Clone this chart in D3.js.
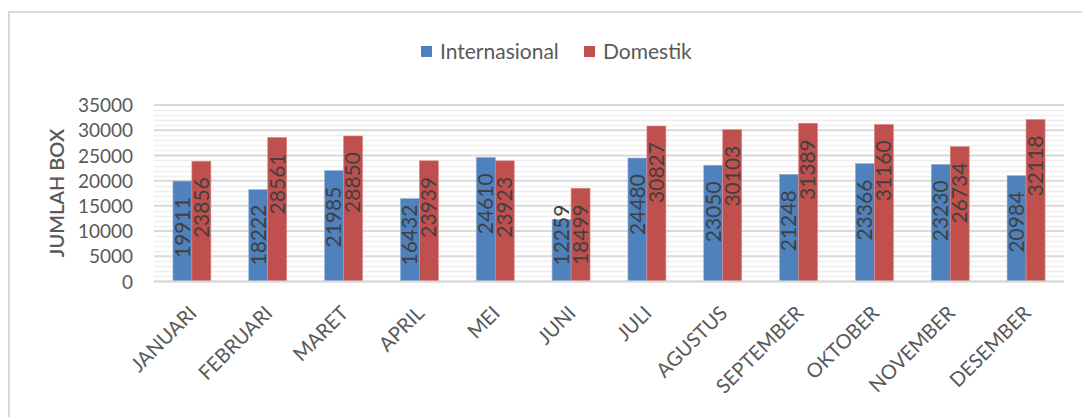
<!DOCTYPE html>
<html>
<head>
<meta charset="utf-8">
<script src="https://cdn.jsdelivr.net/npm/d3@7"></script>
<style>
  html, body { margin: 0; padding: 0; background: #fff; }
  svg { display: block; }
  text { font-family: Lato, "Open Sans", sans-serif; }
</style>
</head>
<body>
<svg id="chart" width="1082" height="417"></svg>
<script>
const months = ["JANUARI","FEBRUARI","MARET","APRIL","MEI","JUNI","JULI","AGUSTUS","SEPTEMBER","OKTOBER","NOVEMBER","DESEMBER"];
const seriesNames = ["Internasional","Domestik"];
const internasional = [19911,18222,21985,16432,24610,12259,24480,23050,21248,23366,23230,20984];
const domestik = [23856,28561,28850,23939,23923,18499,30827,30103,31389,31160,26734,32118];
const yTicks = [0,5000,10000,15000,20000,25000,30000,35000];
const colors = ["#4F81BD","#C0504D"];

const svg = d3.select("#chart");
const pLeft = 154, pRight = 1064, pTop = 105, pBottom = 281.5;

// frame
svg.append("line").attr("x1",9).attr("x2",1082).attr("y1",12).attr("y2",12).attr("stroke","#d9d9d9").attr("stroke-width",2);
svg.append("line").attr("x1",9).attr("x2",9).attr("y1",11).attr("y2",417).attr("stroke","#d9d9d9").attr("stroke-width",2);

const y = d3.scaleLinear().domain([0,35000]).range([pBottom, pTop]);
const x0 = d3.scaleBand().domain(months).range([pLeft, pRight]).paddingInner(0.5).paddingOuter(0.25);
const x1 = d3.scaleBand().domain(seriesNames).range([0, x0.bandwidth()]);

// minor gridlines
const minor = d3.range(1000, 35001, 1000).filter(v => v % 5000 !== 0);
svg.append("g").selectAll("line").data(minor).join("line")
  .attr("x1", pLeft).attr("x2", pRight)
  .attr("y1", d => Math.round(y(d)) + 0.5).attr("y2", d => Math.round(y(d)) + 0.5)
  .attr("stroke", "#efefef").attr("stroke-width", 1.5);
// major gridlines
svg.append("g").selectAll("line").data(yTicks).join("line")
  .attr("x1", pLeft).attr("x2", pRight)
  .attr("y1", d => y(d)).attr("y2", d => y(d))
  .attr("stroke", "#d9d9d9").attr("stroke-width", 2);

// y axis labels
const yAxis = d3.axisLeft(y).tickValues(yTicks).tickSize(0).tickPadding(0).tickFormat(d3.format("d"));
const yg = svg.append("g").attr("transform", `translate(133,0)`).call(yAxis);
yg.select(".domain").remove();
yg.selectAll("text").attr("fill","#595959").style("font-size","19px").style("font-family","Lato").attr("dy","0.35em");

// y title
svg.append("text").attr("transform","translate(64,193) rotate(-90)")
  .attr("text-anchor","middle").attr("fill","#595959")
  .style("font-size","20px").style("font-weight","600").text("JUMLAH BOX");

// bars
const data = months.map((m,i) => ({ m, vals: [internasional[i], domestik[i]] }));
const groups = svg.append("g").selectAll("g").data(data).join("g")
  .attr("transform", d => `translate(${x0(d.m)},0)`);
groups.selectAll("rect").data(d => d.vals.map((v,j)=>({v, s: seriesNames[j], j}))).join("rect")
  .attr("x", d => x1(d.s)).attr("width", x1.bandwidth())
  .attr("y", d => y(d.v)).attr("height", d => pBottom - y(d.v))
  .attr("fill", d => colors[d.j]).attr("stroke", d => d.j ? "#d98a88" : "#8fb0d8").attr("stroke-width", 0.6);

// data labels (rotated, inside end)
const labelSize = 21;
groups.selectAll("text").data(d => d.vals.map((v,j)=>({v, s: seriesNames[j], j}))).join("text")
  .style("font-size", labelSize + "px").attr("fill", "#404040")
  .text(d => d.v)
  .each(function(d){
    const len = this.getComputedTextLength();
    let topY = y(d.v) + 16;
    if (topY + len > pBottom - 16) topY = pBottom - 16 - len;
    const cx = x1(d.s) + x1.bandwidth()/2;
    d3.select(this).attr("text-anchor","end").attr("dy","0.35em")
      .attr("transform", `translate(${cx},${topY}) rotate(-90)`);
  });

// x axis line
svg.append("line").attr("x1", pLeft).attr("x2", pRight).attr("y1", pBottom).attr("y2", pBottom)
  .attr("stroke","#d9d9d9").attr("stroke-width",2);

// x labels
const xAxis = d3.axisBottom(x0).tickSize(0).tickPadding(0);
const xg = svg.append("g").attr("transform", `translate(0,${pBottom})`).call(xAxis);
xg.select(".domain").remove();
xg.selectAll("text").attr("fill","#595959").style("font-size","20px").style("font-family","Lato")
  .attr("text-anchor","end").attr("dy", null).attr("y", 0)
  .attr("transform","translate(6,33) rotate(-45)");

// legend
const legend = svg.append("g");
const legendItems = [{name: seriesNames[0], x: 421}, {name: seriesNames[1], x: 584}];
legendItems.forEach((it, i) => {
  legend.append("rect").attr("x", it.x).attr("y", 46).attr("width", 11).attr("height", 11).attr("fill", colors[i]);
  legend.append("text").attr("x", it.x + 19).attr("y", 52).attr("dy","0.35em")
    .attr("fill","#595959").style("font-size","21px").text(it.name);
});
</script>
</body>
</html>
